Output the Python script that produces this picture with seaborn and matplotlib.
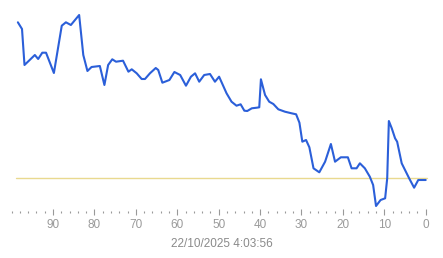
import matplotlib
matplotlib.use("Agg")
import matplotlib.pyplot as plt
import seaborn as sns
import pandas as pd
from matplotlib.ticker import MultipleLocator

sns.set_theme(style="white")
plt.rcParams['font.family'] = ['Liberation Sans', 'DejaVu Sans']

# time ago (units) and value (arbitrary scale, no y axis shown)
ago = [98.5, 97.5, 96.9, 94.4, 93.6, 92.6, 91.7, 89.8, 87.9, 86.9, 85.7, 83.7, 82.7,
       81.7, 80.7, 78.7, 77.6, 76.7, 75.7, 74.8, 73.1, 71.8, 71.0, 69.8, 68.6, 67.8,
       66.6, 65.2, 64.6, 63.6, 61.9, 60.7, 59.3, 57.9, 56.7, 55.7, 54.7, 53.5, 52.1,
       50.9, 49.9, 48.1, 46.9, 45.7, 44.7, 43.8, 43.1, 42.0, 40.8, 40.2, 39.8, 38.8,
       37.8, 36.8, 35.6, 34.0, 32.4, 31.3, 30.5, 29.8, 28.9, 28.1, 27.1, 25.7, 24.3,
       22.9, 21.9, 20.5, 18.8, 17.9, 16.7, 15.9, 14.7, 13.5, 12.7, 12.0, 10.9, 9.8,
       9.3, 8.9, 8.2, 7.4, 6.9, 5.8, 4.0, 2.8, 1.8, 0.0]
value = [197.7, 191, 155, 165, 161, 167.3, 167.3, 147, 194.3, 197.7, 195, 205, 165,
         149, 153, 154, 135, 155, 160.7, 158.3, 159.3, 148.3, 150.7, 146.7, 141, 141,
         146.7, 152, 150, 137.3, 140, 148, 145, 134.3, 143.3, 146.7, 138.3, 145, 146,
         138.3, 143.3, 126.7, 118.3, 114.3, 115.7, 109.3, 109, 111.7, 112.3, 112.7,
         140.7, 125, 118.3, 116, 110.7, 108.3, 106.7, 105.7, 97.3, 78.3, 80, 72.7,
         51.7, 47.7, 58.3, 76, 58.3, 62.7, 62.7, 51.7, 51.7, 56.7, 51.7, 43.3, 35, 14,
         20, 21.7, 41.7, 99, 91.7, 81.7, 78.3, 56.7, 41.7, 32.3, 40, 40]
reference_level = 42
major_ticks = [90, 80, 70, 60, 50, 40, 30, 20, 10, 0]
date_label = "22/10/2025 4:03:56"

df = pd.DataFrame({"ago": ago, "value": value})

W, H = 443, 258
fig = plt.figure(figsize=(W / 100, H / 100), dpi=100)
ax = fig.add_axes([10 / W, (H - 212) / H, 423 / W, 207 / H])

ax.axhline(reference_level, xmin=(16 - 10) / 423, xmax=(427 - 10) / 423,
           color="#e9d98f", lw=1.0, zorder=1)
sns.lineplot(data=df, x="ago", y="value", ax=ax, color="#2b5fd9", lw=1.5, zorder=2)

ax.set_xlim(100.4, -1.76)
ax.set_ylim(8, 215)
for s in ax.spines.values():
    s.set_visible(False)
ax.set_yticks([])
ax.set_ylabel("")
ax.set_xlabel(date_label, color="#8a8a8a", fontsize=8.5, labelpad=5)
ax.set_xticks(major_ticks)
ax.set_xticklabels([str(t) for t in major_ticks])
ax.xaxis.set_minor_locator(MultipleLocator(2))
ax.tick_params(axis="x", which="major", direction="inout", length=5, width=0.8,
               color="#999999", labelcolor="#9a9a9a", labelsize=8.5, pad=2.5, bottom=True)
ax.tick_params(axis="x", which="minor", direction="inout", length=1.5, width=0.8,
               color="#999999", bottom=True)
ax.set_facecolor("white")
fig.patch.set_facecolor("white")
fig.savefig("out.png", dpi=100)
